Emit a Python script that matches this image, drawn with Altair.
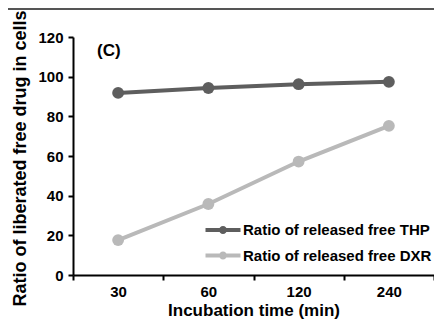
import altair as alt
import pandas as pd

times = ["30", "60", "120", "240"]
thp = [91.8, 94.3, 96.2, 97.4]
dxr = [17.6, 35.8, 57.2, 75.2]
series = ["Ratio of released free THP", "Ratio of released free DXR"]
colors = ["#5e5e5e", "#b9b9b9"]
y_ticks = [0, 20, 40, 60, 80, 100, 120]

rows = []
for name, vals in zip(series, [thp, dxr]):
    for t, v in zip(times, vals):
        rows.append({"time": t, "value": v, "series": name})
df = pd.DataFrame(rows)

FONT = "Liberation Sans"
sym = "M-2,-0.23H2V0.23H-2Z M-0.46,0A0.46,0.46,0,1,1,0.46,0A0.46,0.46,0,1,1,-0.46,0Z"


def make_legend():
    return alt.Legend(title=None, orient="none", legendX=141, legendY=184,
                      symbolType=sym, symbolSize=306, symbolStrokeWidth=0,
                      labelOffset=11, rowPadding=8.5, padding=0,
                      labelFont=FONT, labelFontSize=15,
                      labelFontWeight="bold", labelColor="black",
                      labelLimit=300)


x = alt.X(
    "time:O", sort=times, bandPosition=0.5,
    scale=alt.Scale(type="band", paddingInner=0, paddingOuter=0),
    axis=alt.Axis(title="Incubation time (min)", labelAngle=0, tickBand="extent",
                  labelPadding=4, titlePadding=3, titleFontSize=17),
)
y = alt.Y(
    "value:Q", scale=alt.Scale(domain=[0, 120], nice=False),
    axis=alt.Axis(title="Ratio of liberated free drug in cells", values=y_ticks,
                  labelPadding=5, titlePadding=8, titleFontSize=18,
                  titleY=121, titleAlign="center", titleLimit=400),
)

base = alt.Chart(df)
lines = base.mark_line(strokeWidth=4).encode(
    x=x, y=y,
    stroke=alt.Stroke("series:N", sort=series,
                      scale=alt.Scale(domain=series, range=colors), legend=make_legend()),
    detail="series:N",
)
points = base.mark_circle(size=140, opacity=1).encode(
    x=x, y=y,
    fill=alt.Fill("series:N", sort=series,
                  scale=alt.Scale(domain=series, range=colors),
                  legend=make_legend()),
)
label = alt.Chart(pd.DataFrame({"t": ["(C)"]})).mark_text(
    font=FONT, fontSize=17, fontWeight="bold", align="left", baseline="middle", color="black"
).encode(x=alt.value(24), y=alt.value(14), text="t:N")

topline = alt.Chart(pd.DataFrame({"a": [0]})).mark_rule(color="#555555", strokeWidth=2).encode(
    x=alt.value(-65), x2=alt.value(361), y=alt.value(-28)
)

chart = alt.layer(lines, points, label, topline).properties(
    width=361, height=238,
    autosize=alt.AutoSizeParams(type="none"),
    padding={"left": 65, "top": 29, "right": 0, "bottom": 45},
).configure_view(stroke=None).configure_axis(
    grid=False, domainColor="black", domainWidth=2, tickColor="black", tickWidth=2,
    tickSize=5, labelFont=FONT, labelFontSize=15, labelFontWeight="bold",
    labelColor="black", titleFont=FONT, titleFontWeight="bold", titleColor="black",
)

chart.save("out.html", embed_options={"renderer": "svg", "actions": False})
